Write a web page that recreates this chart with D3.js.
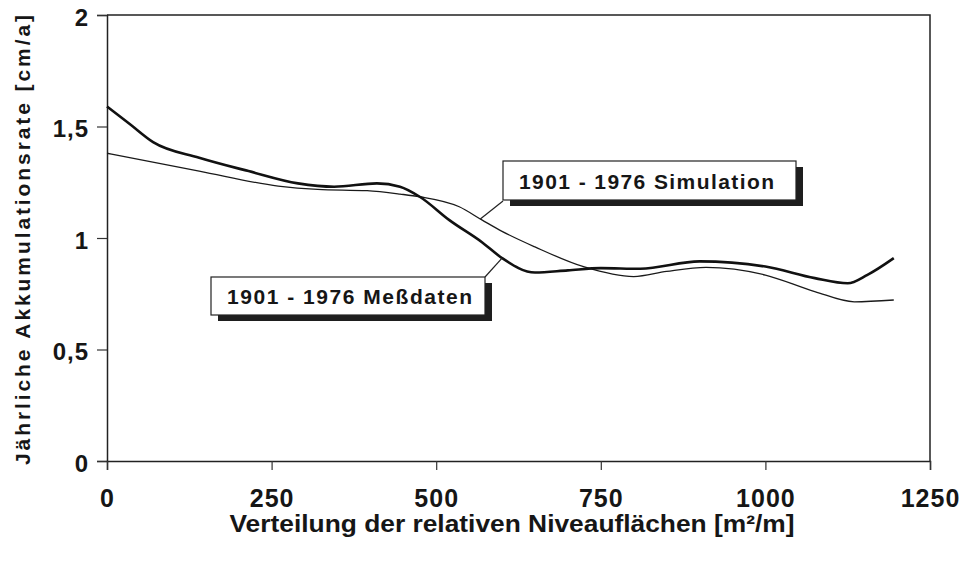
<!DOCTYPE html>
<html>
<head>
<meta charset="utf-8">
<script src="https://cdn.jsdelivr.net/npm/d3@7"></script>
<style>
    body { margin: 0; background: #fff; }
    svg { display: block; }
    text { font-family: "Liberation Sans", Arial, sans-serif; font-weight: bold; fill: #161616; }
</style>
</head>
<body>
<div id="chart"></div>
<script>
// Data
const xTicks = [0, 250, 500, 750, 1000, 1250];
const yTicks = [0, 0.5, 1, 1.5, 2];

// 1901 - 1976 Meßdaten (thick line)
const messX = [0, 35, 70, 140, 215, 290, 345, 410, 445, 475, 520, 570, 600, 650, 700, 750, 810, 900, 1000, 1075, 1125, 1155, 1195];
const messY = [1.59, 1.51, 1.43, 1.36, 1.30, 1.245, 1.23, 1.245, 1.23, 1.185, 1.08, 0.98, 0.91, 0.845, 0.855, 0.865, 0.862, 0.895, 0.872, 0.82, 0.797, 0.835, 0.91];

// 1901 - 1976 Simulation (thin line)
const simX = [0, 140, 260, 320, 395, 445, 475, 535, 570, 600, 650, 725, 800, 850, 910, 1000, 1075, 1135, 1195];
const simY = [1.38, 1.30, 1.233, 1.218, 1.212, 1.197, 1.185, 1.14, 1.08, 1.03, 0.96, 0.87, 0.827, 0.85, 0.868, 0.834, 0.76, 0.714, 0.722];

// where the label leader lines touch the curves
const simAnchor = { x: 567, y: 1.085 };
const messAnchor = { x: 600, y: 0.91 };

const width = 971;
const height = 568;

const svg = d3
    .select("#chart")
    .append("svg")
    .attr("width", width)
    .attr("height", height);

const x = d3.scaleLinear().domain([0, 1250]).range([107, 930]);
const y = d3.scaleLinear().domain([0, 2]).range([461, 15]);

// frame (top and right edge)
svg.append("path")
    .attr("d", `M${x(0)},${y(2)}H${x(1250)}V${y(0)}`)
    .attr("fill", "none")
    .attr("stroke", "#222")
    .attr("stroke-width", 1.5);

// axes
const fmt = (d) => String(d).replace(".", ",");

const yAxis = svg.append("g")
    .attr("transform", `translate(${x(0)},0)`)
    .call(d3.axisLeft(y).tickValues(yTicks).tickFormat(fmt).tickSize(10).tickPadding(8));

const xAxis = svg.append("g")
    .attr("transform", `translate(0,${y(0)})`)
    .call(d3.axisBottom(x).tickValues(xTicks).tickFormat(fmt).tickSize(9).tickPadding(19));

[yAxis, xAxis].forEach((g) => {
    g.select(".domain").attr("stroke", "#222").attr("stroke-width", 1.5);
    g.selectAll(".tick line").attr("stroke", "#333").attr("stroke-width", 1.2);
    g.selectAll(".tick text")
        .attr("fill", "#161616")
        .attr("font-family", '"Liberation Sans", Arial, sans-serif')
        .attr("font-weight", "bold");
});
yAxis.attr("font-size", 24).selectAll(".tick text").attr("dy", "0.42em").style("letter-spacing", "1px");
xAxis.attr("font-size", 25).selectAll(".tick text").style("letter-spacing", "1px");

// curves
const line = d3.line()
    .x((d) => x(d[0]))
    .y((d) => y(d[1]))
    .curve(d3.curveMonotoneX);

svg.append("path")
    .datum(simX.map((v, i) => [v, simY[i]]))
    .attr("d", line)
    .attr("fill", "none")
    .attr("stroke", "#1a1a1a")
    .attr("stroke-width", 1.3);

svg.append("path")
    .datum(messX.map((v, i) => [v, messY[i]]))
    .attr("d", line)
    .attr("fill", "none")
    .attr("stroke", "#111")
    .attr("stroke-width", 2.6);

// labelled boxes with drop shadow
function labelBox(bx, by, bw, bh, label, textLen, leaderFrom, anchor) {
    svg.append("line")
        .attr("x1", leaderFrom[0])
        .attr("y1", leaderFrom[1])
        .attr("x2", x(anchor.x))
        .attr("y2", y(anchor.y))
        .attr("stroke", "#222")
        .attr("stroke-width", 1.2);

    svg.append("rect")
        .attr("x", bx + 7)
        .attr("y", by + 6)
        .attr("width", bw)
        .attr("height", bh)
        .attr("fill", "#1e1e1e");

    svg.append("rect")
        .attr("x", bx)
        .attr("y", by)
        .attr("width", bw)
        .attr("height", bh)
        .attr("fill", "#fff")
        .attr("stroke", "#222")
        .attr("stroke-width", 1.2);

    svg.append("text")
        .attr("x", bx + 16)
        .attr("y", by + bh / 2 + 8)
        .attr("textLength", textLen)
        .attr("lengthAdjust", "spacing")
        .style("font-size", "21px")
        .text(label);
}

labelBox(503, 161, 293, 39, "1901 - 1976  Simulation", 255, [503, 201], simAnchor);
labelBox(211, 277, 274, 38, "1901 - 1976  Meßdaten", 245, [485, 277], messAnchor);

// axis titles
svg.append("text")
    .attr("transform", "translate(30,240) rotate(-90)")
    .attr("text-anchor", "middle")
    .attr("textLength", 450)
    .attr("lengthAdjust", "spacing")
    .style("font-size", "21px")
    .text("Jährliche Akkumulationsrate [cm/a]");

svg.append("text")
    .attr("x", 512)
    .attr("y", 532)
    .attr("text-anchor", "middle")
    .attr("textLength", 565)
    .attr("lengthAdjust", "spacingAndGlyphs")
    .style("font-size", "24px")
    .text("Verteilung der relativen Niveauflächen  [m²/m]");
</script>
</body>
</html>
